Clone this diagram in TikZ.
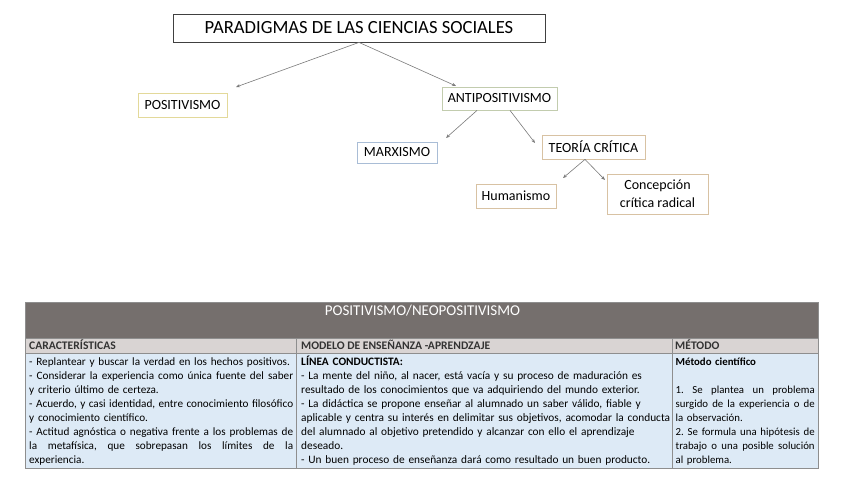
\documentclass[tikz,border=0pt]{standalone}
\usepackage{fontspec}
\setmainfont{Carlito}
\usetikzlibrary{arrows.meta}
\definecolor{titlebg}{HTML}{756F6D}
\definecolor{headbg}{HTML}{D9D4D3}
\definecolor{bodybg}{HTML}{DDEAF6}
\definecolor{gridc}{HTML}{8E8E8E}
\definecolor{yelb}{HTML}{E3D99A}
\definecolor{greenb}{HTML}{C2CCAE}
\definecolor{blueb}{HTML}{A9BDD6}
\definecolor{tanb}{HTML}{D8C2A3}
\definecolor{arrc}{HTML}{7A7A7A}
\frenchspacing
\newdimen\cellw
\newcommand\cst{\vrule height 10pt depth 4pt width 0pt\relax}
\newcommand\JL[1]{\hbox to\cellw{\spaceskip=\fontdimen2\font plus 3\fontdimen2\font minus 0.3\fontdimen2\font\relax\cst #1}}
\newcommand\NL[1]{\hbox{\cst #1}}
\begin{document}
\begin{tikzpicture}[x=1pt,y=-1pt,
  cbox/.style={draw, line width=0.8pt, fill=white, inner sep=0pt, align=center, font=\fontsize{14}{18}\selectfont},
  conn/.style={draw=arrc, line width=0.6pt, -{Stealth[length=4pt,width=3.2pt]}},
  cell/.style={anchor=north west, inner sep=0pt, font=\fontsize{11.6}{14}\selectfont},
  hcell/.style={anchor=base west, inner sep=0pt, font=\fontsize{11.6}{14}\bfseries\selectfont, text=black!80},
  grid/.style={draw=gridc, line width=0.8pt}]
\useasboundingbox (0,0) rectangle (848,477);
% concept map
\node[cbox, draw=black!75, minimum width=372pt, minimum height=28pt, font=\fontsize{18.6}{20}\selectfont] (top) at (359,28) {PARADIGMAS DE LAS CIENCIAS SOCIALES};
\node[cbox, draw=yelb, minimum width=89pt, minimum height=24pt] (pos) at (182.5,105) {POSITIVISMO};
\node[cbox, draw=greenb, minimum width=115pt, minimum height=23pt] (anti) at (499.5,98.5) {ANTIPOSITIVISMO};
\node[cbox, draw=blueb, minimum width=80pt, minimum height=21pt] (marx) at (397,152.5) {MARXISMO};
\node[cbox, draw=tanb, minimum width=103pt, minimum height=24pt] (teo) at (593.5,147) {TEORÍA CRÍTICA};
\node[cbox, draw=tanb, minimum width=80pt, minimum height=24pt] (hum) at (516,196) {Humanismo};
\node[cbox, draw=tanb, minimum width=101pt, minimum height=40pt] (conc) at (657.5,194) {Concepción\\crítica radical};
\coordinate (t1) at (236,87);
\coordinate (t2) at (456,86);
\coordinate (t3) at (446,138);
\coordinate (t4) at (535,143);
\coordinate (t5) at (563,178);
\coordinate (t6) at (605,180);
\draw[conn] (top.south) -- (t1);
\draw[conn] (top.south) -- (t2);
\draw[conn] ([xshift=-22.5pt]anti.south) -- (t3);
\draw[conn] ([xshift=10.5pt]anti.south) -- (t4);
\draw[conn] ([xshift=-8.5pt]teo.south) -- (t5);
\draw[conn] ([xshift=-8.5pt]teo.south) -- (t6);
% table
\path[grid, fill=titlebg] (25,302) rectangle (818,338);
\path[grid, fill=headbg] (25,338) rectangle (818,353);
\path[grid, fill=bodybg] (25,353) rectangle (818,468);
\draw[grid] (296.5,338) -- (296.5,468);
\draw[grid] (672,338) -- (672,468);
\node[text=white, inner sep=0pt, anchor=base, font=\fontsize{15}{17}\selectfont] (ttl) at (422.5,315) {POSITIVISMO/NEOPOSITIVISMO};
\node[hcell] (h1) at (29,349.5) {CARACTERÍSTICAS};
\node[hcell] (h2) at (301,349.5) {MODELO DE ENSEÑANZA -APRENDZAJE};
\node[hcell] (h3) at (675,349.5) {MÉTODO};
\node[cell, text width=264pt, font=\fontsize{11.2}{14}\selectfont] (c1) at (29,355) {\cellw=264pt\relax\vbox{%
\NL{- Replantear y buscar la verdad en los hechos positivos.}%
\JL{- Considerar la experiencia como única fuente del saber}%
\NL{y criterio último de certeza.}%
\JL{- Acuerdo, y casi identidad, entre conocimiento filosófico}%
\NL{y conocimiento científico.}%
\JL{- Actitud agnóstica o negativa frente a los problemas de}%
\JL{la metafísica, que sobrepasan los límites de la}%
\NL{experiencia.}}};
\node[cell, text width=366pt, font=\fontsize{11.35}{14}\selectfont] (c2) at (301,355) {\vbox{%
\NL{\textbf{LÍNEA CONDUCTISTA:}}%
\NL{- La mente del niño, al nacer, está vacía y su proceso de maduración es}%
\NL{resultado de los conocimientos que va adquiriendo del mundo exterior.}%
\NL{- La didáctica se propone enseñar al alumnado un saber válido, fiable y}%
\NL{aplicable y centra su interés en delimitar sus objetivos, acomodar la conducta}%
\NL{del alumnado al objetivo pretendido y alcanzar con ello el aprendizaje}%
\NL{deseado.}%
\NL{- Un buen proceso de enseñanza dará como resultado un buen producto.}}};
\node[cell, text width=139pt, font=\fontsize{10.8}{14}\selectfont] (c3) at (675.5,355) {\cellw=139pt\relax\vbox{%
\NL{\textbf{Método científico}}%
\NL{}%
\JL{1. Se plantea un problema}%
\JL{surgido de la experiencia o de}%
\NL{la observación.}%
\JL{2. Se formula una hipótesis de}%
\JL{trabajo o una posible solución}%
\NL{al problema.}}};
\end{tikzpicture}
\end{document}
